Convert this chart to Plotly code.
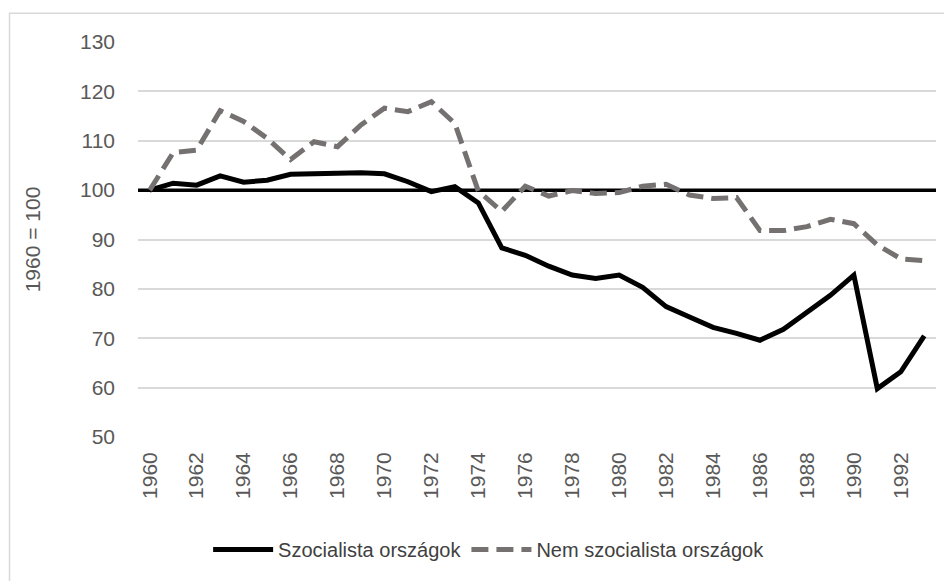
import plotly.graph_objects as go

years = list(range(1960, 1994))

szocialista = [
    100.0, 101.4, 101.0, 102.9, 101.6, 102.0, 103.2, 103.2, 103.4, 103.5,
    103.3, 101.7, 99.7, 100.7, 97.4, 88.3, 86.8, 84.6, 82.8, 82.1,
    82.8, 80.3, 76.4, 74.3, 72.2, 71.0, 69.6, 71.8, 75.1, 78.7,
    82.8, 59.8, 63.2, 70.5,
]

nem_szocialista = [
    100.0, 107.6, 108.1, 116.1, 113.9, 110.5, 106.2, 109.8, 108.8, 113.2,
    116.6, 115.9, 117.9, 113.5, 99.8, 95.7, 100.8, 98.8, 99.9, 99.3,
    99.5, 100.8, 101.2, 99.0, 98.3, 98.5, 91.8, 91.8, 92.6, 94.1,
    93.2, 88.9, 86.1, 85.7,
]

tick_years = list(range(1960, 1993, 2))

Y_MIN, Y_MAX = 50, 130
BASE_VALUE = 100

FONT = "Liberation Sans, Arial, sans-serif"

x_range = [years[0] - 0.5, years[-1] + 0.5]

fig = go.Figure()
# horizontal axis crosses at 100: drawn first so it sits above the grid, under the series
fig.add_trace(
    go.Scatter(
        x=x_range,
        y=[BASE_VALUE, BASE_VALUE],
        mode="lines",
        line=dict(color="#000000", width=3.5),
        showlegend=False,
        hoverinfo="skip",
    )
)
fig.add_trace(
    go.Scatter(
        x=years,
        y=szocialista,
        mode="lines",
        name="Szocialista országok",
        line=dict(color="#000000", width=5),
    )
)
fig.add_trace(
    go.Scatter(
        x=years,
        y=nem_szocialista,
        mode="lines",
        name="Nem szocialista országok",
        line=dict(color="#767171", width=5, dash="17px,8px"),
    )
)

# chart border (only left and top edges fall inside the picture)
fig.add_shape(
    type="rect",
    xref="paper",
    yref="paper",
    x0=-0.161,
    x1=1.06,
    y0=-0.5,
    y1=1.073,
    line=dict(color="#d9d9d9", width=1.5),
)

# page body has an 8px margin, so the figure is a bit smaller than the window
fig.update_layout(
    width=944,
    height=573,
    margin=dict(l=130, r=16, t=34, b=144),
    paper_bgcolor="white",
    plot_bgcolor="white",
    font=dict(family=FONT, size=18, color="#595959"),
    showlegend=True,
    legend=dict(
        orientation="h",
        x=0.44,
        xanchor="center",
        y=-0.285,
        yanchor="middle",
        font=dict(family=FONT, size=20, color="#404040"),
        itemwidth=60,
    ),
)
fig.update_xaxes(
    range=x_range,
    tickmode="array",
    tickvals=tick_years,
    ticktext=[str(y) for y in tick_years],
    tickangle=-90,
    showgrid=False,
    zeroline=False,
    showline=False,
    automargin=False,
    ticklabelstandoff=10,
    tickfont=dict(family=FONT, size=21, color="#595959"),
)
fig.update_yaxes(
    range=[Y_MIN, Y_MAX],
    tickvals=list(range(Y_MIN, Y_MAX + 1, 10)),
    showgrid=True,
    gridcolor="#d9d9d9",
    gridwidth=1.5,
    zeroline=False,
    showline=False,
    ticks="",
    automargin=False,
    ticklabelstandoff=22,
    tickfont=dict(family=FONT, size=21, color="#595959"),
    title=dict(text="1960 = 100", font=dict(family=FONT, size=21, color="#595959"), standoff=33),
)

fig.write_html("out.html")
